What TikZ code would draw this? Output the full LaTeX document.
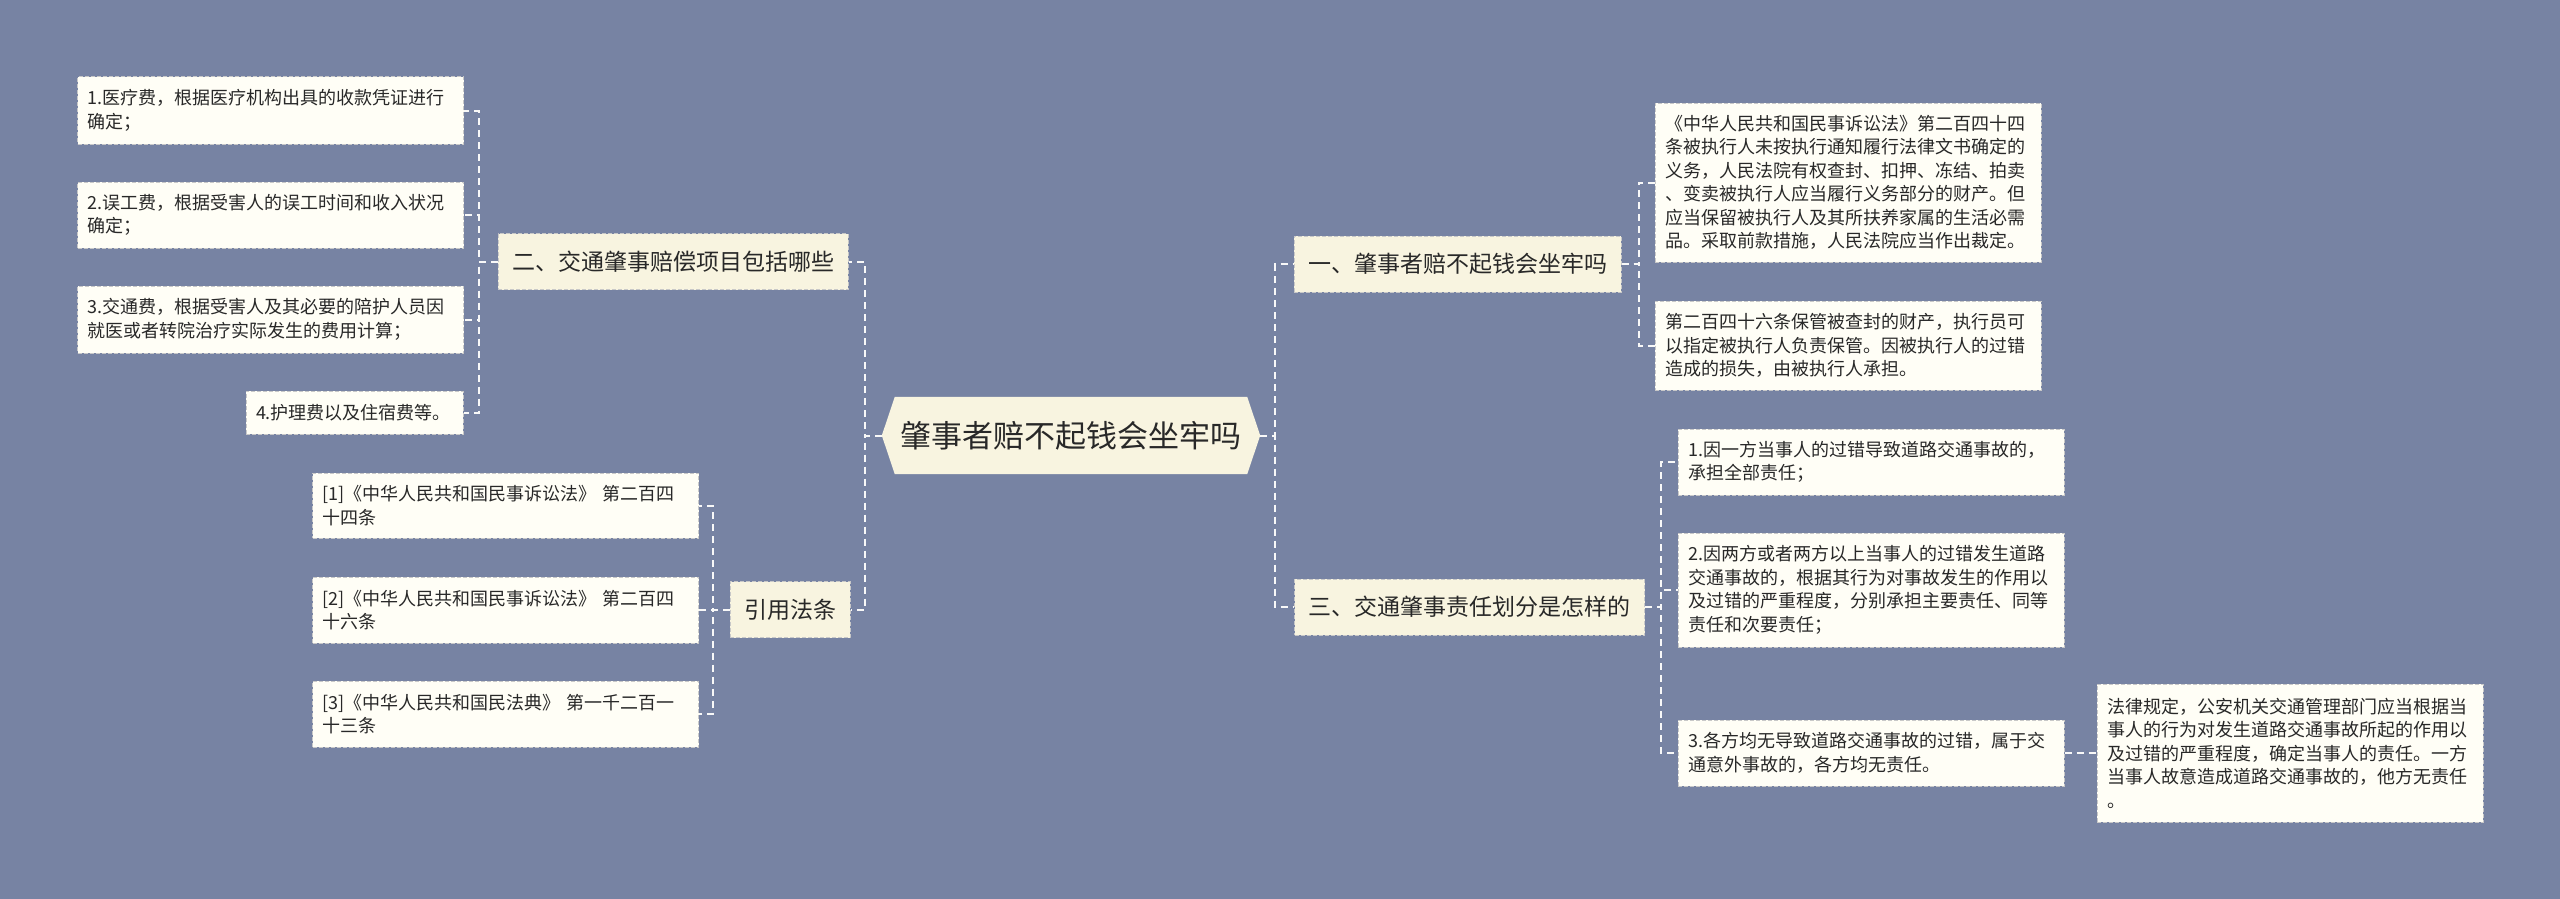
\documentclass[tikz,border=0pt]{standalone}
\usepackage{fontspec}
\setmainfont{Noto Sans CJK SC}
\usepackage{tikz}
\usetikzlibrary{calc}
\definecolor{slate}{RGB}{119,131,163}
\definecolor{paper}{RGB}{255,254,246}
\definecolor{cream}{RGB}{248,244,224}
\definecolor{edge}{RGB}{200,200,200}
\definecolor{wire}{RGB}{248,248,248}
\definecolor{ink}{RGB}{40,40,40}
\pgfdeclarelayer{bg}
\pgfsetlayers{bg,main}

\begin{document}
\begin{tikzpicture}[x=1pt,y=-1pt,
  leaf/.style={rectangle,draw=edge,dash pattern=on 4pt off 2pt,line width=1pt,fill=paper,
               align=left,text width=366pt,inner xsep=10pt,inner ysep=4pt,text=ink,
               font=\fontsize{18}{23.5}\selectfont},
  branch/.style={rectangle,draw=edge,dash pattern=on 4pt off 2pt,line width=1pt,fill=cream,
                 inner xsep=14pt,minimum height=56pt,text=ink,font=\fontsize{23}{27}\selectfont},
  hub/.style={rectangle,minimum width=378pt,minimum height=77pt,text=ink,
              font=\fontsize{31}{36}\selectfont},
  link/.style={draw=wire,line width=2pt,dash pattern=on 7pt off 5pt}
]
\begin{pgfonlayer}{bg}
\fill[slate] (0,0) rectangle (2560,899);
\end{pgfonlayer}
\useasboundingbox (0,0) rectangle (2560,899);

\node[hub] (root) at (1071,435.5) {肇事者赔不起钱会坐牢吗};
\begin{pgfonlayer}{bg}
\fill[cream] ([xshift=13pt]root.north west) -- ([xshift=-13pt]root.north east) -- (root.east)
  -- ([xshift=-13pt]root.south east) -- ([xshift=13pt]root.south west) -- (root.west) -- cycle;
\end{pgfonlayer}

% left side
\node[branch] (sec2) at (673,261.5) {二、交通肇事赔偿项目包括哪些};
\node[leaf,minimum height=67pt] (fee1) at (270.5,110.5) {1.医疗费，根据医疗机构出具的收款凭证进行\\确定；};
\node[leaf,minimum height=66pt] (fee2) at (270.5,215) {2.误工费，根据受害人的误工时间和收入状况\\确定；};
\node[leaf,minimum height=67pt] (fee3) at (270.5,319.5) {3.交通费，根据受害人及其必要的陪护人员因\\就医或者转院治疗实际发生的费用计算；};
\node[leaf,text width=197pt,minimum height=43pt] (fee4) at (354.5,412.5) {4.护理费以及住宿费等。};

\node[branch] (cite) at (790,609.5) {引用法条};
\node[leaf,minimum height=65pt] (law1) at (505.5,505.5) {[1]《中华人民共和国民事诉讼法》 第二百四\\十四条};
\node[leaf,minimum height=66pt] (law2) at (505.5,610) {[2]《中华人民共和国民事诉讼法》 第二百四\\十六条};
\node[leaf,minimum height=66pt] (law3) at (505.5,714) {[3]《中华人民共和国民法典》 第一千二百一\\十三条};

% right side
\node[branch] (sec1) at (1457.5,264) {一、肇事者赔不起钱会坐牢吗};
\node[leaf,minimum height=159pt] (art244) at (1848,182.5) {《中华人民共和国民事诉讼法》第二百四十四\\条被执行人未按执行通知履行法律文书确定的\\义务，人民法院有权查封、扣押、冻结、拍卖\\、变卖被执行人应当履行义务部分的财产。但\\应当保留被执行人及其所扶养家属的生活必需\\品。采取前款措施，人民法院应当作出裁定。};
\node[leaf,minimum height=89pt] (art246) at (1848,345.5) {第二百四十六条保管被查封的财产，执行员可\\以指定被执行人负责保管。因被执行人的过错\\造成的损失，由被执行人承担。};

\node[branch] (sec3) at (1469.5,607) {三、交通肇事责任划分是怎样的};
\node[leaf,minimum height=66pt] (duty1) at (1871,462) {1.因一方当事人的过错导致道路交通事故的，\\承担全部责任；};
\node[leaf,minimum height=114pt] (duty2) at (1871,590) {2.因两方或者两方以上当事人的过错发生道路\\交通事故的，根据其行为对事故发生的作用以\\及过错的严重程度，分别承担主要责任、同等\\责任和次要责任；};
\node[leaf,minimum height=66pt] (duty3) at (1871,753) {3.各方均无导致道路交通事故的过错，属于交\\通意外事故的，各方均无责任。};
\node[leaf,minimum height=138pt] (rule) at (2290,753) {法律规定，公安机关交通管理部门应当根据当\\事人的行为对发生道路交通事故所起的作用以\\及过错的严重程度，确定当事人的责任。一方\\当事人故意造成道路交通事故的，他方无责任\\。};

% connectors
\draw[link] (root.west) -- ++(-17,0) |- (sec2.east);
\draw[link] (root.west) -- ++(-17,0) |- (cite.east);
\draw[link] (root.east) -- ++(15,0) |- (sec1.west);
\draw[link] (root.east) -- ++(15,0) |- (sec3.west);
\draw[link] (sec2.west) -- ++(-19,0) |- (fee1.east);
\draw[link] (sec2.west) -- ++(-19,0) |- (fee2.east);
\draw[link] (sec2.west) -- ++(-19,0) |- (fee3.east);
\draw[link] (sec2.west) -- ++(-19,0) |- (fee4.east);
\draw[link] (cite.west) -- ++(-17,0) |- (law1.east);
\draw[link] (cite.west) -- ++(-17,0) |- (law2.east);
\draw[link] (cite.west) -- ++(-17,0) |- (law3.east);
\draw[link] (sec1.east) -- ++(17,0) |- (art244.west);
\draw[link] (sec1.east) -- ++(17,0) |- (art246.west);
\draw[link] (sec3.east) -- ++(16,0) |- (duty1.west);
\draw[link] (sec3.east) -- ++(16,0) |- (duty2.west);
\draw[link] (sec3.east) -- ++(16,0) |- (duty3.west);
\draw[link] (duty3) -- (rule);
\end{tikzpicture}
\end{document}
